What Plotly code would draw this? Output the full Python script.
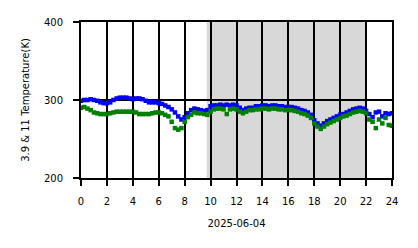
import plotly.graph_objects as go

hours = [i * 0.25 for i in range(97)]

t39 = [299, 300, 300, 301, 300, 299, 297, 296, 296, 297, 300, 302, 303, 303, 303, 302,
       301, 302, 302, 301, 299, 297, 297, 297, 296, 295, 293, 291, 288, 284, 279, 275,
       278, 283, 287, 289, 288, 287, 286, 287, 292, 293, 293, 294, 293, 294, 293, 294,
       293, 290, 287, 289, 290, 290, 292, 292, 293, 293, 292, 293, 293, 292, 292, 291,
       291, 291, 290, 289, 287, 286, 284, 281, 274, 270, 267, 270, 273, 275, 277, 279,
       281, 282, 284, 286, 288, 289, 290, 289, 286, 282, 278, 284, 285, 279, 283, 282, 283]

t11 = [290, 291, 289, 287, 284, 283, 282, 282, 282, 283, 284, 285, 285, 285, 285, 285,
       285, 284, 282, 282, 282, 282, 283, 284, 284, 283, 281, 279, 272, 264, 262, 264,
       272, 278, 281, 284, 283, 283, 282, 281, 285, 288, 289, 289, 288, 282, 288, 289,
       288, 285, 283, 285, 287, 287, 288, 288, 289, 289, 288, 289, 289, 288, 288, 287,
       287, 287, 286, 285, 283, 282, 280, 277, 270, 266, 263, 266, 269, 271, 273, 275,
       277, 279, 280, 282, 284, 285, 286, 285, 283, 275, 272, 264, 275, 270, 277, 268, 267]

shade_start, shade_end = 9.7, 22.0
x_ticks = list(range(0, 25, 2))
y_ticks = [200, 300, 400]

fig = go.Figure()
fig.add_trace(go.Scatter(x=hours, y=t39, mode="markers",
                         marker=dict(symbol="square", size=4.5, color="#0000ff", line=dict(width=0)),
                         showlegend=False))
fig.add_trace(go.Scatter(x=hours, y=t11, mode="markers",
                         marker=dict(symbol="square", size=4.5, color="#008000", line=dict(width=0)),
                         showlegend=False))

fig.add_shape(type="rect", xref="x", yref="paper", x0=shade_start, x1=shade_end, y0=0, y1=1,
              fillcolor="#d8d8d8", line=dict(width=0), layer="below")

fig.update_layout(
    width=418, height=248,
    margin=dict(l=81, r=26, t=22, b=70),
    paper_bgcolor="white", plot_bgcolor="white",
    font=dict(family="DejaVu Sans", size=10, color="black"),
)
fig.update_xaxes(range=[0, 24], tickvals=x_ticks, ticktext=[str(v) for v in x_ticks],
                 showgrid=True, gridcolor="black", gridwidth=2,
                 showline=True, linecolor="black", linewidth=2, mirror=True,
                 ticks="outside", ticklen=6, tickwidth=2, tickcolor="black",
                 ticklabelstandoff=7,
                 zeroline=False, tickfont=dict(size=10),
                 title=dict(text="2025-06-04", font=dict(size=10), standoff=14))
fig.update_yaxes(range=[200, 400], tickvals=y_ticks, ticktext=[str(v) for v in y_ticks],
                 showgrid=True, gridcolor="black", gridwidth=2,
                 showline=True, linecolor="black", linewidth=2, mirror=True,
                 ticks="outside", ticklen=6, tickwidth=2, tickcolor="black",
                 ticklabelstandoff=8,
                 zeroline=False, tickfont=dict(size=10),
                 title=dict(text="3.9 & 11 Temperature(K)", font=dict(size=10), standoff=12))

fig.write_html("out.html")
